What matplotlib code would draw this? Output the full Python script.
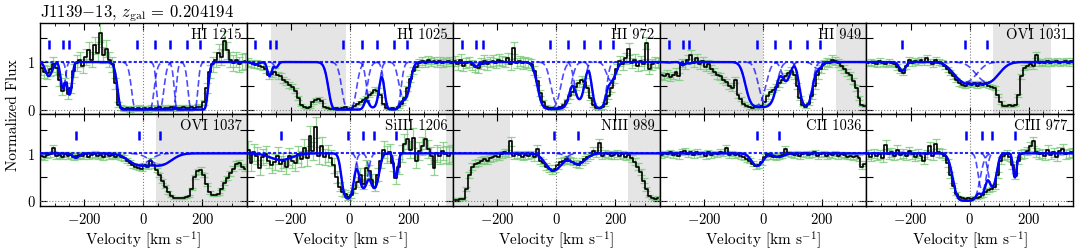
import numpy as np
import matplotlib
matplotlib.use("Agg")
import matplotlib.pyplot as plt
from matplotlib.ticker import MultipleLocator, FixedLocator, FuncFormatter

plt.rcParams.update({
    "font.family": "cmr10",
    "mathtext.fontset": "cm",
    "axes.formatter.use_mathtext": True,
    "font.size": 10,
})

# ---------------- data ----------------
vel_bins = np.arange(-345, 350, 10)  # pixel centres [km/s]

flux_HI1215 = [0.88, 0.80, 0.78, 0.85, 0.95, 0.88, 0.62, 0.40, 0.55, 0.32,
               0.45, 0.82, 0.98, 1.05, 0.92, 1.10, 1.25, 1.05, 1.35, 1.20,
               1.62, 1.15, 1.28, 1.05, 0.95, 0.55, 0.10, 0.04, 0.02, 0.03,
               0.01, 0.03, 0.02, 0.04, 0.02, 0.03, 0.01, 0.04, 0.02, 0.03,
               0.05, 0.02, 0.04, 0.03, 0.05, 0.02, 0.04, 0.03, 0.05, 0.04,
               0.03, 0.05, 0.04, 0.06, 0.05, 0.15, 0.45, 0.80, 0.95, 1.05,
               1.20, 1.10, 1.45, 1.25, 1.05, 0.98, 1.05, 0.95, 1.00, 1.02]
flux_HI1025 = [1.00, 0.97, 0.95, 0.96, 0.92, 0.90, 0.85, 0.72, 0.75, 0.80,
               0.72, 0.70, 0.62, 0.58, 0.52, 0.48, 0.40, 0.25, 0.10, 0.05,
               0.04, 0.06, 0.15, 0.20, 0.22, 0.18, 0.06, 0.03, 0.02, 0.02,
               0.03, 0.02, 0.03, 0.05, 0.02, 0.03, 0.08, 0.12, 0.15, 0.20,
               0.25, 0.30, 0.35, 0.42, 0.40, 0.30, 0.12, 0.04, 0.02, 0.03,
               0.02, 0.05, 0.12, 0.25, 0.45, 0.65, 0.82, 0.90, 0.98, 1.02,
               0.97, 1.05, 1.00, 1.03, 0.98, 1.02, 0.98, 1.00, 1.03, 0.99]
flux_HI972 = [1.02, 0.95, 1.05, 0.92, 0.98, 1.00, 0.93, 0.90, 0.88, 0.97,
              1.03, 0.95, 1.00, 1.03, 0.98, 1.05, 1.02, 1.00, 1.08, 0.95,
              1.30, 0.98, 1.02, 0.97, 1.00, 0.98, 0.95, 0.82, 0.60, 0.35,
              0.15, 0.06, 0.04, 0.03, 0.02, 0.03, 0.05, 0.10, 0.18, 0.28,
              0.38, 0.48, 0.55, 0.62, 0.58, 0.45, 0.25, 0.10, 0.04, 0.03,
              0.05, 0.12, 0.28, 0.45, 0.65, 0.85, 1.02, 0.95, 1.08, 1.28,
              0.98, 1.05, 0.92, 1.02, 0.95, 1.40, 0.85, 0.95, 1.00, 0.98]
flux_HI949 = [0.72, 0.70, 0.75, 0.68, 0.72, 0.80, 0.70, 0.98, 0.95, 1.05,
              1.15, 0.98, 1.08, 0.95, 1.02, 0.90, 0.95, 0.85, 0.80, 0.72,
              0.70, 0.62, 0.58, 0.50, 0.45, 0.62, 0.30, 0.22, 0.12, 0.08,
              0.05, 0.04, 0.06, 0.05, 0.08, 0.15, 0.28, 0.38, 0.42, 0.48,
              0.55, 0.62, 0.70, 0.76, 0.82, 0.72, 0.50, 0.25, 0.10, 0.06,
              0.12, 0.28, 0.50, 0.72, 0.85, 0.95, 1.00, 0.98, 1.05, 1.02,
              0.98, 0.92, 0.85, 0.78, 0.72, 0.60, 0.45, 0.25, 0.10, 0.08]
flux_OVI1031 = [0.97, 1.00, 0.98, 0.95, 1.02, 0.97, 0.95, 1.00, 0.97, 0.95,
                0.90, 0.82, 0.78, 0.92, 1.05, 0.98, 1.02, 1.00, 1.05, 1.00,
                1.08, 1.00, 0.95, 1.05, 1.00, 0.98, 0.92, 0.85, 0.78, 0.70,
                0.62, 0.55, 0.52, 0.50, 0.55, 0.52, 0.55, 0.50, 0.55, 0.52,
                0.55, 0.50, 0.48, 0.45, 0.30, 0.15, 0.08, 0.08, 0.09, 0.08,
                0.10, 0.30, 0.70, 0.88, 0.92, 0.95, 0.92, 1.15, 0.98, 1.00,
                0.97, 1.02, 0.98, 1.00, 1.02, 0.97, 1.00, 1.03, 0.98, 1.02]
flux_OVI1037 = [0.95, 0.92, 0.96, 0.98, 1.12, 0.95, 0.97, 0.93, 0.98, 0.95,
                0.97, 0.92, 0.94, 0.97, 0.95, 0.98, 0.93, 0.96, 0.99, 0.94,
                0.97, 0.92, 0.98, 0.95, 0.97, 0.93, 0.96, 0.92, 0.90, 0.85,
                0.80, 0.75, 0.72, 0.70, 0.68, 0.75, 0.72, 0.85, 0.75, 0.65,
                0.55, 0.42, 0.30, 0.18, 0.10, 0.07, 0.06, 0.07, 0.06, 0.08,
                0.10, 0.25, 0.50, 0.62, 0.66, 0.55, 0.35, 0.18, 0.12, 0.12,
                0.14, 0.25, 0.38, 0.48, 0.58, 0.68, 0.78, 0.80, 0.72, 0.68]
flux_SiIII1206 = [1.08, 0.80, 1.02, 0.95, 0.70, 0.92, 0.98, 0.85, 0.75, 0.82,
                  0.95, 0.78, 0.85, 0.72, 0.94, 0.85, 0.80, 0.98, 0.88, 1.12,
                  0.90, 1.36, 1.05, 1.55, 0.95, 1.15, 0.92, 1.00, 0.90, 0.75,
                  0.50, 0.30, 0.18, 0.15, 0.08, 0.12, 0.25, 0.40, 0.55, 0.35,
                  0.70, 0.62, 0.45, 0.30, 0.55, 0.85, 1.08, 0.98, 1.02, 0.80,
                  0.48, 0.72, 1.00, 1.20, 1.30, 1.08, 1.32, 0.85, 1.05, 1.15,
                  1.30, 1.10, 0.95, 0.70, 1.00, 0.95, 1.05, 0.98, 0.95, 1.00]
flux_NIII989 = [0.03, 0.03, 0.04, 0.05, 0.25, 0.55, 0.72, 0.78, 0.80, 0.85,
                0.88, 0.85, 0.90, 0.92, 0.95, 0.93, 0.98, 1.02, 1.00, 1.25,
                0.95, 0.98, 0.96, 0.93, 0.97, 0.95, 0.98, 0.92, 1.10, 0.85,
                0.80, 0.72, 0.68, 0.63, 0.68, 0.75, 0.82, 0.85, 0.88, 0.85,
                0.82, 0.78, 0.76, 0.82, 0.88, 0.92, 0.95, 1.05, 1.00, 1.22,
                0.95, 1.00, 0.98, 0.95, 0.97, 1.00, 0.95, 0.98, 0.93, 0.96,
                0.90, 0.82, 0.72, 0.60, 0.42, 0.25, 0.10, 0.06, 0.05, 0.07]
flux_CII1036 = [0.97, 1.00, 0.98, 1.02, 0.97, 1.00, 0.95, 1.03, 1.05, 0.98,
                1.02, 0.96, 1.03, 0.98, 1.00, 0.95, 1.02, 0.97, 1.00, 0.98,
                1.03, 1.00, 1.12, 0.97, 1.00, 0.96, 0.98, 0.95, 0.92, 0.88,
                0.85, 0.78, 0.73, 0.75, 0.82, 0.92, 0.98, 0.95, 0.93, 0.92,
                0.95, 0.97, 1.10, 1.00, 0.98, 0.97, 1.00, 0.95, 0.98, 1.00,
                0.96, 0.99, 1.02, 0.95, 0.98, 1.00, 0.95, 0.98, 0.97, 1.00,
                0.95, 0.98, 0.96, 0.93, 0.95, 0.92, 0.94, 0.90, 0.72, 0.78]
flux_CIII977 = [0.98, 0.92, 1.00, 0.95, 0.98, 0.90, 1.18, 0.98, 1.02, 0.95,
                1.08, 0.97, 1.00, 0.95, 1.05, 0.98, 0.93, 1.00, 0.95, 0.85,
                0.98, 1.15, 0.95, 1.20, 1.02, 1.00, 0.95, 0.80, 0.55, 0.32,
                0.15, 0.08, 0.06, 0.05, 0.06, 0.05, 0.07, 0.06, 0.08, 0.12,
                0.18, 0.22, 0.25, 0.30, 0.55, 0.85, 0.95, 0.98, 0.92, 0.75,
                0.52, 0.85, 0.98, 1.00, 1.05, 1.15, 1.25, 1.02, 0.98, 1.00,
                0.95, 1.08, 0.97, 1.02, 0.92, 1.05, 1.10, 0.98, 1.00, 1.02]

panel_labels = ["HI 1215", "HI 1025", "HI 972", "HI 949", "OVI 1031",
                "OVI 1037", "SiIII 1206", "NIII 989", "CII 1036", "CIII 977"]
panel_flux = [flux_HI1215, flux_HI1025, flux_HI972, flux_HI949, flux_OVI1031,
              flux_OVI1037, flux_SiIII1206, flux_NIII989, flux_CII1036, flux_CIII977]
panel_err_level = [0.16, 0.08, 0.11, 0.09, 0.06, 0.06, 0.18, 0.08, 0.06, 0.09]

# fitted components: centre velocity, Doppler b, central optical depth per transition
HI_v = [-320, -272, -250, -25, 15, 78, 145, 185]
HI_b = [15, 10, 10, 30, 28, 18, 20, 20]
HI1215_tau = [0.35, 0.80, 1.15, 60, 40, 25, 45, 15]
HI1025_tau = [0.06, 0.35, 0.12, 10, 8, 3.0, 6.0, 1.5]
HI972_tau = [0.02, 0.10, 0.04, 4.0, 3.0, 1.5, 3.5, 0.5]
HI949_tau = [0.01, 0.07, 0.03, 2.5, 2.2, 0.5, 2.5, 0.15]
OVI_v = [-228, -15, 60]
OVI_b = [15, 48, 48]
OVI1031_tau = [0.20, 0.55, 0.55]
OVI1037_tau = [0.10, 0.27, 0.27]
SiIII_v = [-233, -7, 46, 83, 156]
SiIII_b = [50, 18, 17, 17, 9]
SiIII_tau = [0.15, 3.0, 1.3, 1.3, 0.7]
NIII_v = [-10, 72]
NIII_b = [35, 35]
NIII_tau = [0.45, 0.25]
CII_v = [-20, 53]
CII_b = [25, 25]
CII_tau = [0.31, 0.08]
CIII_v = [-11, 43, 77, 153]
CIII_b = [32, 15, 16, 8]
CIII_tau = [6.0, 1.5, 1.2, 0.7]

panel_comps = [(HI_v, HI_b, HI1215_tau), (HI_v, HI_b, HI1025_tau),
               (HI_v, HI_b, HI972_tau), (HI_v, HI_b, HI949_tau),
               (OVI_v, OVI_b, OVI1031_tau), (OVI_v, OVI_b, OVI1037_tau),
               (SiIII_v, SiIII_b, SiIII_tau), (NIII_v, NIII_b, NIII_tau),
               (CII_v, CII_b, CII_tau), (CIII_v, CIII_b, CIII_tau)]

# component tick marks
HI_marks = [-320, -272, -250, -22, 40, 92, 148, 192]
OVI_marks = [-229, -15, 58]
SiIII_marks = [-233, -7, 46, 83, 156]
NIII_marks = [-10, 72]
CII_marks = [-20, 53]
CIII_marks = [-11, 43, 77, 153]
panel_marks = [HI_marks, HI_marks, HI_marks, HI_marks, OVI_marks,
               OVI_marks, SiIII_marks, NIII_marks, CII_marks, CIII_marks]

# masked (blended) velocity ranges
panel_masks = [[], [(-266, -12), (303, 350)], [], [(-350, 0), (247, 350)], [(80, 275)],
               [(42, 350)], [(325, 350)], [(-350, -159), (243, 350)], [], []]

# ---------------- plot ----------------
fig, axes = plt.subplots(2, 5, figsize=(10.8, 2.53), dpi=100, sharex=True, sharey=True)
fig.subplots_adjust(left=0.037, right=0.9935, top=0.905, bottom=0.183, wspace=0, hspace=0)

vgrid = np.linspace(-350, 350, 1401)

for i, ax in enumerate(axes.flat):
    flux = np.array(panel_flux[i])
    err = panel_err_level[i] * np.sqrt(np.clip(flux, 0.1, None))
    for (a, b) in panel_masks[i]:
        ax.axvspan(a, b, color="#e5e5e5", lw=0, zorder=0)
    ax.errorbar(vel_bins, flux, yerr=err, fmt="none", ecolor="#79c979", alpha=0.8,
                elinewidth=0.9, capsize=3.0, capthick=0.9, zorder=1)
    ax.step(vel_bins, flux, where="mid", color="black", lw=1.2, zorder=2)

    cv, cb, ct = panel_comps[i]
    tau_tot = np.zeros_like(vgrid)
    for v0, b0, t0 in zip(cv, cb, ct):
        tau_c = t0 * np.exp(-((vgrid - v0) / b0) ** 2)
        tau_tot += tau_c
        prof = np.exp(-tau_c)
        prof = np.where(prof < 0.997, prof, np.nan)
        ax.plot(vgrid, prof, color="blue", lw=1.2, ls=(0, (4, 2)), alpha=0.7, zorder=3)
    ax.plot(vgrid, np.exp(-tau_tot), color="blue", lw=1.7, zorder=4)

    ax.vlines(panel_marks[i], 1.28, 1.47, color="blue", lw=1.8, zorder=5)
    ax.axhline(1, color="blue", ls=(0, (1.5, 1)), lw=1.5, alpha=0.85, zorder=3)
    ax.axhline(0, color="gray", ls=":", lw=0.8, zorder=3)
    ax.axvline(0, color="gray", ls=":", lw=0.8, zorder=3)

    ax.text(0.975, 0.955, panel_labels[i], transform=ax.transAxes, ha="right", va="top",
            fontsize=10.5, zorder=6)

    ax.set_xlim(-350, 350)
    ax.set_ylim(-0.1, 1.82)
    ax.xaxis.set_major_locator(MultipleLocator(200))
    ax.xaxis.set_minor_locator(MultipleLocator(50))
    ax.yaxis.set_major_locator(FixedLocator([0, 0.5, 1, 1.5]))
    ax.yaxis.set_major_formatter(FuncFormatter(lambda y, p: "%d" % y if y in (0, 1) else ""))
    ax.tick_params(which="both", direction="in", top=True, right=True, labelsize=10.5)
    ax.tick_params(which="major", length=5, width=0.8)
    ax.tick_params(which="minor", length=2.5, width=0.6)
    for s in ax.spines.values():
        s.set_linewidth(1.0)

for ax in axes[1]:
    ax.set_xlabel("Velocity [km s$^{-1}$]", fontsize=11, labelpad=2)

fig.text(0.012, 0.545, "Normalized Flux", rotation=90, ha="center", va="center", fontsize=11)
fig.text(0.037, 0.934, "J1139$-$13, $z_{\\rm gal}$ = 0.204194", ha="left", va="baseline",
         fontsize=12)

fig.savefig("out.png", dpi=100)
